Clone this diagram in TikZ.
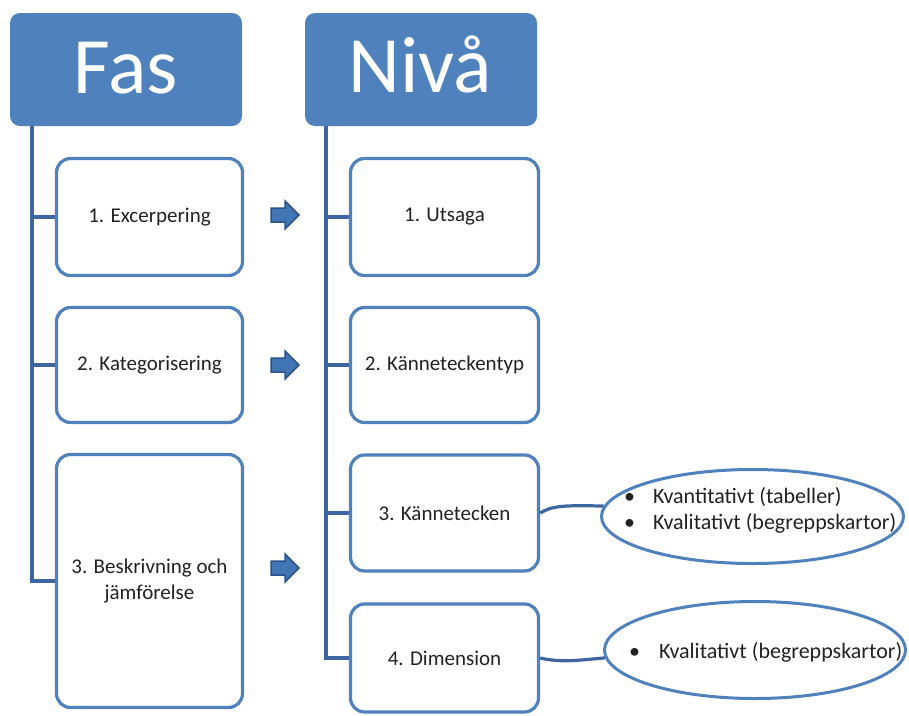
\documentclass[tikz,border=0pt]{standalone}
\usepackage{fontspec}
\setmainfont{Carlito}
\usetikzlibrary{shapes.geometric}

\definecolor{headblue}{HTML}{4F81BD}
\definecolor{treeblue}{HTML}{3D66A0}
\definecolor{arrowfill}{HTML}{4275B4}
\definecolor{arrowline}{HTML}{2B528A}
\definecolor{txt}{HTML}{222222}

\tikzset{
  header/.style={fill=headblue, draw=none, rounded corners=10pt,
    minimum width=232pt, minimum height=113pt, inner sep=0pt},
  headtext/.style={text=white, font=\fontsize{80}{90}\selectfont, anchor=base, inner sep=0pt},
  stepbox/.style={draw=headblue, line width=3.2pt, fill=white, rounded corners=14pt,
    inner sep=0pt, text=txt, align=center, font=\fontsize{21}{26}\selectfont},
  oval/.style={ellipse, draw=headblue, line width=3pt, fill=white, inner sep=0pt},
  ovaltext/.style={anchor=west, inner sep=0pt, text=txt, font=\fontsize{22}{26}\selectfont},
  tree/.style={draw=treeblue, line width=3.2pt},
  blockarrow/.style={fill=arrowfill, draw=arrowline, line width=1.5pt, line join=miter},
}

\begin{document}
\begin{tikzpicture}[x=1pt, y=-1pt]
\useasboundingbox (0,0) rectangle (909,715);

% column headers
\node[header] (fas) at (126,69.5) {};
\node[headtext] (fastext) at (126,93) {Fas};
\node[header] (niva) at (421,69.5) {};
\node[headtext] (nivatext) at (420,92) {Nivå};

% trunk lines below the headers
\coordinate (ftop) at (32,126);
\coordinate (ntop) at (326,126);

% phase boxes
\node[stepbox, minimum width=186pt, minimum height=117pt] (f1) at (149.5,217) {1. Excerpering};
\node[stepbox, minimum width=186pt, minimum height=115pt] (f2) at (149.5,365) {2. Kategorisering};
\node[stepbox, minimum width=186pt, minimum height=253pt] (f3) at (149.5,581) {3. Beskrivning och\\jämförelse};

% level boxes
\node[stepbox, minimum width=188pt, minimum height=117pt] (n1) at (444.5,217) {1. Utsaga};
\node[stepbox, minimum width=188pt, minimum height=115pt] (n2) at (444.5,365) {2. Känneteckentyp};
\node[stepbox, minimum width=188pt, minimum height=116pt] (n3) at (444.5,513) {3. Kännetecken};
\node[stepbox, minimum width=188pt, minimum height=108pt] (n4) at (444.5,658) {4. Dimension};

% tree connectors, phase column
\draw[tree] (ftop) |- (f3.west);
\draw[tree] (f1.west) -- (f1.west -| ftop);
\draw[tree] (f2.west) -- (f2.west -| ftop);

% tree connectors, level column
\draw[tree] (ntop) |- (n4.west);
\draw[tree] (n1.west) -- (n1.west -| ntop);
\draw[tree] (n2.west) -- (n2.west -| ntop);
\draw[tree] (n3.west) -- (n3.west -| ntop);

% ovals with their bullet lists
\node[oval, minimum width=302pt, minimum height=94pt] (e1) at (752.5,516.5) {};
\node[ovaltext] (e1text) at (624,511) {\begin{tabular}{@{}l@{\hspace{18pt}}l@{}}
  \textbullet & Kvantitativt (tabeller)\\
  \textbullet & Kvalitativt (begreppskartor)
\end{tabular}};
\node[oval, minimum width=301pt, minimum height=97pt] (e2) at (755,650) {};
\node[ovaltext] (e2text) at (629,653) {\begin{tabular}{@{}l@{\hspace{19pt}}l@{}}
  \textbullet & Kvalitativt (begreppskartor)
\end{tabular}};

% links from level boxes to ovals
\draw[tree] (n3.east) .. controls (552,506) and (562,505) .. (e1.176);
\draw[tree] (n4.east) .. controls (562,663) and (580,660) .. (e2.183);

% small block arrows between the columns
\foreach \y in {215,365,568} {
  \filldraw[blockarrow] (271,\y-7) -- (285,\y-7) -- (285,\y-14) -- (299,\y)
    -- (285,\y+14) -- (285,\y+7) -- (271,\y+7) -- cycle;
}
\end{tikzpicture}
\end{document}
